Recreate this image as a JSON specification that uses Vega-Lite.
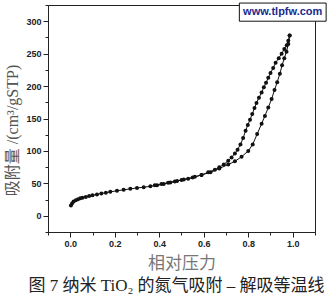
{
  "$schema": "https://vega.github.io/schema/vega-lite/v6.json",
  "width": 267,
  "height": 227,
  "autosize": "none",
  "padding": {"left": 48, "top": 5, "right": 19, "bottom": 64},
  "background": "white",
  "config": {
    "view": {"stroke": "#222", "strokeWidth": 1},
    "axis": {"grid": false, "domainColor": "#222", "tickColor": "#222", "labelFont": "Liberation Sans", "labelFontWeight": "bold", "labelFontSize": 9, "labelColor": "#222"}
  },
  "title": {
    "text": "图 7 纳米 TiO₂ 的氮气吸附 – 解吸等温线",
    "orient": "bottom",
    "anchor": "middle",
    "font": "Liberation Serif, Noto Sans CJK SC",
    "fontSize": 17,
    "fontWeight": "normal",
    "color": "#222",
    "offset": 7,
    "dx": -5
  },
  "datasets": {
    "iso": [
      {"branch": "ads", "p": 0.003, "v": 16},
      {"branch": "ads", "p": 0.008, "v": 19},
      {"branch": "ads", "p": 0.015, "v": 22},
      {"branch": "ads", "p": 0.025, "v": 24},
      {"branch": "ads", "p": 0.035, "v": 25.5},
      {"branch": "ads", "p": 0.045, "v": 27},
      {"branch": "ads", "p": 0.055, "v": 28},
      {"branch": "ads", "p": 0.07, "v": 29},
      {"branch": "ads", "p": 0.085, "v": 30.5},
      {"branch": "ads", "p": 0.1, "v": 31.5},
      {"branch": "ads", "p": 0.12, "v": 33},
      {"branch": "ads", "p": 0.14, "v": 34.5},
      {"branch": "ads", "p": 0.16, "v": 35.5},
      {"branch": "ads", "p": 0.18, "v": 37},
      {"branch": "ads", "p": 0.21, "v": 38.5},
      {"branch": "ads", "p": 0.24, "v": 40},
      {"branch": "ads", "p": 0.27, "v": 41.5},
      {"branch": "ads", "p": 0.3, "v": 43},
      {"branch": "ads", "p": 0.33, "v": 44},
      {"branch": "ads", "p": 0.36, "v": 45.5},
      {"branch": "ads", "p": 0.39, "v": 47},
      {"branch": "ads", "p": 0.42, "v": 49},
      {"branch": "ads", "p": 0.45, "v": 51.5},
      {"branch": "ads", "p": 0.48, "v": 53.5},
      {"branch": "ads", "p": 0.51, "v": 56},
      {"branch": "ads", "p": 0.55, "v": 59},
      {"branch": "ads", "p": 0.59, "v": 63},
      {"branch": "ads", "p": 0.63, "v": 67},
      {"branch": "ads", "p": 0.67, "v": 73},
      {"branch": "ads", "p": 0.71, "v": 79},
      {"branch": "ads", "p": 0.74, "v": 84},
      {"branch": "ads", "p": 0.77, "v": 91},
      {"branch": "ads", "p": 0.8, "v": 100},
      {"branch": "ads", "p": 0.82, "v": 110},
      {"branch": "ads", "p": 0.84, "v": 126},
      {"branch": "ads", "p": 0.86, "v": 142},
      {"branch": "ads", "p": 0.875, "v": 154},
      {"branch": "ads", "p": 0.89, "v": 167},
      {"branch": "ads", "p": 0.905, "v": 180},
      {"branch": "ads", "p": 0.918, "v": 194},
      {"branch": "ads", "p": 0.93, "v": 206},
      {"branch": "ads", "p": 0.942, "v": 219},
      {"branch": "ads", "p": 0.952, "v": 232},
      {"branch": "ads", "p": 0.962, "v": 243},
      {"branch": "ads", "p": 0.972, "v": 253},
      {"branch": "ads", "p": 0.98, "v": 265},
      {"branch": "ads", "p": 0.986, "v": 278},
      {"branch": "des", "p": 0.986, "v": 278},
      {"branch": "des", "p": 0.98, "v": 270},
      {"branch": "des", "p": 0.973, "v": 263},
      {"branch": "des", "p": 0.962, "v": 257},
      {"branch": "des", "p": 0.95, "v": 250},
      {"branch": "des", "p": 0.937, "v": 243},
      {"branch": "des", "p": 0.923, "v": 236},
      {"branch": "des", "p": 0.912, "v": 228},
      {"branch": "des", "p": 0.9, "v": 220},
      {"branch": "des", "p": 0.89, "v": 213},
      {"branch": "des", "p": 0.88, "v": 205},
      {"branch": "des", "p": 0.87, "v": 198},
      {"branch": "des", "p": 0.86, "v": 190},
      {"branch": "des", "p": 0.848, "v": 182},
      {"branch": "des", "p": 0.837, "v": 174},
      {"branch": "des", "p": 0.828, "v": 166},
      {"branch": "des", "p": 0.818, "v": 157},
      {"branch": "des", "p": 0.808, "v": 148},
      {"branch": "des", "p": 0.798, "v": 140},
      {"branch": "des", "p": 0.788, "v": 131},
      {"branch": "des", "p": 0.777, "v": 120},
      {"branch": "des", "p": 0.765, "v": 110},
      {"branch": "des", "p": 0.752, "v": 102},
      {"branch": "des", "p": 0.74, "v": 96},
      {"branch": "des", "p": 0.725, "v": 90},
      {"branch": "des", "p": 0.71, "v": 85},
      {"branch": "des", "p": 0.69, "v": 79},
      {"branch": "des", "p": 0.67, "v": 75},
      {"branch": "des", "p": 0.65, "v": 71},
      {"branch": "des", "p": 0.62, "v": 67},
      {"branch": "des", "p": 0.59, "v": 63},
      {"branch": "des", "p": 0.56, "v": 60},
      {"branch": "des", "p": 0.53, "v": 57},
      {"branch": "des", "p": 0.5, "v": 55},
      {"branch": "des", "p": 0.47, "v": 53},
      {"branch": "des", "p": 0.44, "v": 51},
      {"branch": "des", "p": 0.41, "v": 49},
      {"branch": "des", "p": 0.38, "v": 47}
    ]
  },
  "resolve": {"axis": {"x": "independent", "y": "independent"}},
  "layer": [
    {
      "data": {"name": "iso"},
      "mark": {"type": "line", "color": "#111", "strokeWidth": 1},
      "encoding": {
        "x": {
          "field": "p", "type": "quantitative",
          "scale": {"domain": [-0.1, 1.1], "nice": false, "zero": false},
          "axis": {
            "values": [0, 0.2, 0.4, 0.6, 0.8, 1.0],
            "format": ".1f",
            "tickSize": 5,
            "labelPadding": 2,
            "title": "相对压力",
            "titleFont": "Liberation Serif, Noto Sans CJK SC",
            "titleFontSize": 17,
            "titleFontWeight": "normal",
            "titleColor": "#777",
            "titleBaseline": "middle",
            "titleY": 31
          }
        },
        "y": {
          "field": "v", "type": "quantitative",
          "scale": {"domain": [-25, 325], "nice": false, "zero": false},
          "axis": {
            "values": [0, 50, 100, 150, 200, 250, 300],
            "tickSize": 5,
            "labelPadding": 2,
            "title": "吸附量 /(cm³/gSTP)",
            "titleFont": "Liberation Serif, Noto Sans CJK SC",
            "titleFontSize": 16,
            "titleFontWeight": "normal",
            "titleColor": "#555",
            "titleBaseline": "middle",
            "titleAnchor": "middle",
            "titleX": -36,
            "titleY": 125
          }
        },
        "detail": {"field": "branch"}
      }
    },
    {
      "data": {"name": "iso"},
      "mark": {"type": "point", "filled": true, "color": "#111", "size": 16, "opacity": 1},
      "encoding": {
        "x": {
          "field": "p", "type": "quantitative",
          "axis": {
            "values": [-0.1, 0.1, 0.3, 0.5, 0.7, 0.9, 1.1],
            "labels": false, "domain": false, "grid": false,
            "tickSize": 3, "title": null, "orient": "bottom"
          }
        },
        "y": {
          "field": "v", "type": "quantitative",
          "axis": {
            "values": [-25, 25, 75, 125, 175, 225, 275, 325],
            "labels": false, "domain": false, "grid": false,
            "tickSize": 3, "title": null, "orient": "left"
          }
        }
      }
    },
    {
      "data": {"values": [{}]},
      "mark": {"type": "rect", "fill": "white", "stroke": "#111", "strokeWidth": 1, "clip": false},
      "encoding": {
        "x": {"datum": 0.76, "type": "quantitative", "axis": null},
        "x2": {"datum": 1.15},
        "y": {"datum": 300, "type": "quantitative", "axis": null},
        "y2": {"datum": 328}
      }
    },
    {
      "data": {"values": [{}]},
      "mark": {"type": "text", "text": "www.tlpfw.com", "font": "Liberation Sans", "fontWeight": "bold", "fontSize": 11, "color": "#1a2a8c", "align": "center", "baseline": "middle", "clip": false},
      "encoding": {
        "x": {"datum": 0.955, "type": "quantitative", "axis": null},
        "y": {"datum": 314, "type": "quantitative", "axis": null}
      }
    }
  ]
}
